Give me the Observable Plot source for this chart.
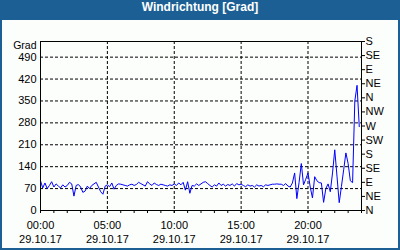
<!DOCTYPE html>
<html>
<head>
<meta charset="utf-8">
<script src="https://cdn.jsdelivr.net/npm/d3@7"></script>
<script src="https://cdn.jsdelivr.net/npm/@observablehq/plot@0.6"></script>
<style>
  html, body { margin: 0; padding: 0; background: #1c5f94; }
  #wrap { width: 400px; height: 250px; background: #1c5f94; overflow: hidden; }
  #title { height: 20px; line-height: 20px; color: #fff; text-align: center;
           font: bold 12px "Liberation Sans", "DejaVu Sans", sans-serif; }
  #chart { margin: 0 2px; width: 396px; height: 228px; }
  #chart svg { display: block; }
</style>
</head>
<body>
<div id="wrap">
  <div id="title">Windrichtung [Grad]</div>
  <div id="chart"></div>
</div>
<script>
// Wind direction in degrees, one value every 10 minutes, 29.10.17 00:00 – 23:50
const windDir = [
  95, 72, 88, 70, 80, 92,     // 00
  75, 85, 78, 72, 82, 75,     // 01
  80, 90, 85, 46, 80, 83,     // 02
  75, 58, 62, 78, 70, 80,     // 03
  85, 90, 75, 60, 52, 78,     // 04
  82, 76, 88, 68, 80, 85,     // 05
  84, 82, 80, 78, 82, 84,     // 06
  80, 83, 90, 86, 82, 78,     // 07
  92, 85, 80, 88, 83, 80,     // 08
  84, 82, 80, 78, 82, 80,     // 09
  85, 80, 88, 82, 90, 65,     // 10
  92, 55, 80, 78, 85, 80,     // 11
  85, 90, 92, 86, 80, 75,     // 12
  82, 78, 88, 80, 84, 78,     // 13
  83, 80, 85, 78, 86, 82,     // 14
  84, 80, 76, 82, 78, 80,     // 15
  75, 82, 78, 80, 76, 82,     // 16
  80, 82, 84, 84, 85, 84,     // 17
  84, 80, 86, 78, 75, 88,     // 18
  120, 38, 90, 150, 82, 100,  // 19
  120, 75, 40, 108, 95, 89,   // 20
  88, 26, 70, 85, 60, 120,    // 21
  194, 110, 25, 77, 130, 184, // 22
  150, 95, 89, 350, 400, 268  // 23
];
const dayStart = new Date(Date.UTC(2017, 9, 29, 0, 0));
const dayEnd = new Date(Date.UTC(2017, 9, 30, 0, 0));
const dateLabel = "29.10.17";
const majorHours = [0, 5, 10, 15, 20];
const gridHours = [5, 10, 15, 20];
const leftTicks = [0, 70, 140, 210, 280, 350, 420, 490];
const gridValues = [70, 140, 210, 280, 350, 420, 490];
const compassTicks = [0, 45, 90, 135, 180, 225, 270, 315, 360, 405, 450, 495, 540];
const compassLabels = ["N", "NE", "E", "SE", "S", "SW", "W", "NW", "N", "NE", "E", "SE", "S"];
const yLabel = "Grad";

const hourDate = h => new Date(dayStart.getTime() + h * 3600e3);
const data = windDir.map((v, i) => ({ t: new Date(dayStart.getTime() + i * 600e3), v }));
const fmt = d3.utcFormat("%H:%M");

const chart = Plot.plot({
  width: 396,
  height: 228,
  marginLeft: 38,
  marginRight: 37,
  marginTop: 21,
  marginBottom: 38,
  style: { fontFamily: "Liberation Sans, Arial, sans-serif", fontSize: "11px", background: "#fcfefc", color: "black", overflow: "visible" },
  x: { type: "utc", domain: [dayStart, dayEnd] },
  y: { domain: [0, 540] },
  marks: [
    Plot.ruleY(gridValues, { stroke: "black", strokeDasharray: "3,2" }),
    Plot.ruleX(gridHours.map(hourDate), { stroke: "black", strokeDasharray: "3,2" }),
    Plot.line(data, { x: "t", y: "v", stroke: "#0000ff", strokeWidth: 1 }),
    Plot.axisY(leftTicks, { anchor: "left", tickSize: 0, tickPadding: 4, label: null }),
    Plot.axisY(compassTicks, { anchor: "right", tickSize: 3, tickPadding: 1, label: null,
      tickFormat: (d) => compassLabels[compassTicks.indexOf(d)] }),
    Plot.axisX(d3.range(0, 25).map(hourDate), { tickSize: 3, tickFormat: () => "", label: null }),
    Plot.axisX(majorHours.map(hourDate), { tickSize: 3, tickPadding: 6, label: null, lineHeight: 1.27,
      tickFormat: d => fmt(d) + "\n" + dateLabel }),
    Plot.frame({ stroke: "black" }),
    Plot.text([yLabel], { frameAnchor: "top-left", dx: -4, dy: 0, fontSize: 10.5, textAnchor: "end", fill: "black" })
  ]
});
document.getElementById("chart").appendChild(chart);
</script>
</body>
</html>
